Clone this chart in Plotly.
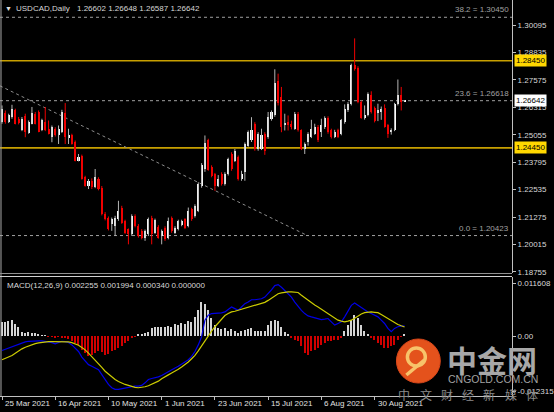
import plotly.graph_objects as go

# ---------------- data ----------------
date_labels = ["25 Mar 2021", "16 Apr 2021", "10 May 2021", "1 Jun 2021",
               "23 Jun 2021", "15 Jul 2021", "6 Aug 2021", "30 Aug 2021"]
date_idx = [0, 16, 32, 48, 64, 80, 96, 112]

price_ticks = [1.30095, 1.28835, 1.27575, 1.26315, 1.25055,
               1.23795, 1.22535, 1.21275, 1.20015, 1.18755]

open_ = [1.2563, 1.2605, 1.2563, 1.2587, 1.2617, 1.2579, 1.2525, 1.2590, 1.2513, 1.2556,
         1.2602, 1.2610, 1.2525, 1.2563, 1.2533, 1.2494, 1.2533, 1.2502, 1.2517, 1.2605,
         1.2491, 1.2502, 1.2471, 1.2387, 1.2410, 1.2310, 1.2271, 1.2295, 1.2264, 1.2302,
         1.2262, 1.2143, 1.2125, 1.2094, 1.2087, 1.2117, 1.2171, 1.2110, 1.2071, 1.2048,
         1.2133, 1.2087, 1.2064, 1.2033, 1.2048, 1.2125, 1.2056, 1.2082, 1.2041, 1.2079,
         1.2033, 1.2125, 1.2056, 1.2071, 1.2091, 1.2117, 1.2087, 1.2163, 1.2133, 1.2156,
         1.2270, 1.2348, 1.2480, 1.2356, 1.2325, 1.2271, 1.2325, 1.2279, 1.2325, 1.2417,
         1.2387, 1.2402, 1.2302, 1.2333, 1.2456, 1.2479, 1.2556, 1.2440, 1.2440, 1.2509,
         1.2494, 1.2579, 1.2594, 1.2750, 1.2679, 1.2548, 1.2563, 1.2556, 1.2533, 1.2602,
         1.2525, 1.2440, 1.2471, 1.2494, 1.2510, 1.2543, 1.2517, 1.2540, 1.2583, 1.2525,
         1.2497, 1.2528, 1.2510, 1.2563, 1.2617, 1.2648, 1.2825, 1.2814, 1.2656, 1.2583,
         1.2595, 1.2686, 1.2629, 1.2605, 1.2611, 1.2629, 1.2548, 1.2517, 1.2528, 1.2645,
         1.2686, 1.26602]
high = [1.2640, 1.2617, 1.2602, 1.2643, 1.2625, 1.2587, 1.2587, 1.2602, 1.2571, 1.2633,
        1.2610, 1.2617, 1.2579, 1.2633, 1.2571, 1.2548, 1.2540, 1.2548, 1.2620, 1.2651,
        1.2533, 1.2510, 1.2479, 1.2417, 1.2414, 1.2317, 1.2302, 1.2305, 1.2348, 1.2310,
        1.2270, 1.2150, 1.2130, 1.2125, 1.2133, 1.2202, 1.2179, 1.2115, 1.2075, 1.2140,
        1.2140, 1.2095, 1.2072, 1.2070, 1.2125, 1.2133, 1.2120, 1.2090, 1.2070, 1.2085,
        1.2125, 1.2130, 1.2085, 1.2115, 1.2115, 1.2122, 1.2171, 1.2170, 1.2186, 1.2287,
        1.2375, 1.2502, 1.2487, 1.2365, 1.2330, 1.2320, 1.2333, 1.2333, 1.2400, 1.2425,
        1.2440, 1.2410, 1.2340, 1.2470, 1.2525, 1.2586, 1.2563, 1.2517, 1.2533, 1.2517,
        1.2610, 1.2617, 1.2806, 1.2786, 1.2725, 1.2602, 1.2594, 1.2570, 1.2610, 1.2610,
        1.2530, 1.2470, 1.2517, 1.2574, 1.2556, 1.2550, 1.2579, 1.2590, 1.2590, 1.2533,
        1.2528, 1.2533, 1.2578, 1.2645, 1.2655, 1.2832, 1.2948, 1.2820, 1.2662, 1.2640,
        1.2700, 1.2705, 1.2635, 1.2648, 1.2635, 1.2645, 1.2555, 1.2535, 1.2652, 1.2759,
        1.2725, 1.26648]
low = [1.2556, 1.2556, 1.2559, 1.2579, 1.2553, 1.2553, 1.2522, 1.2494, 1.2510, 1.2553,
       1.2553, 1.2517, 1.2522, 1.2522, 1.2507, 1.2471, 1.2497, 1.2463, 1.2513, 1.2463,
       1.2463, 1.2460, 1.2383, 1.2383, 1.2299, 1.2267, 1.2256, 1.2256, 1.2260, 1.2250,
       1.2135, 1.2112, 1.2066, 1.2064, 1.2041, 1.2110, 1.2096, 1.2050, 1.2002, 1.2041,
       1.2080, 1.2033, 1.2025, 1.2018, 1.2040, 1.2002, 1.2050, 1.2028, 1.2002, 1.2018,
       1.2025, 1.2055, 1.2050, 1.2066, 1.2085, 1.2072, 1.2080, 1.2110, 1.2125, 1.2150,
       1.2262, 1.2335, 1.2340, 1.2310, 1.2248, 1.2265, 1.2272, 1.2272, 1.2318, 1.2340,
       1.2380, 1.2295, 1.2294, 1.2294, 1.2450, 1.2472, 1.2432, 1.2432, 1.2435, 1.2413,
       1.2487, 1.2570, 1.2588, 1.2640, 1.2517, 1.2525, 1.2525, 1.2530, 1.2528, 1.2520,
       1.2435, 1.2417, 1.2455, 1.2490, 1.2505, 1.2472, 1.2495, 1.2532, 1.2510, 1.2488,
       1.2490, 1.2490, 1.2503, 1.2556, 1.2610, 1.2640, 1.2800, 1.2650, 1.2579, 1.2575,
       1.2590, 1.2603, 1.2562, 1.2568, 1.2574, 1.2538, 1.2491, 1.2506, 1.2522, 1.2640,
       1.2617, 1.26587]
close = [1.2625, 1.2563, 1.2594, 1.2625, 1.2556, 1.2560, 1.2579, 1.2517, 1.2563, 1.2605,
         1.2556, 1.2520, 1.2571, 1.2525, 1.2510, 1.2540, 1.2502, 1.2533, 1.2610, 1.2494,
         1.2502, 1.2463, 1.2387, 1.2402, 1.2302, 1.2271, 1.2295, 1.2264, 1.2310, 1.2256,
         1.2140, 1.2117, 1.2071, 1.2117, 1.2125, 1.2156, 1.2102, 1.2056, 1.2048, 1.2133,
         1.2087, 1.2040, 1.2033, 1.2064, 1.2117, 1.2048, 1.2113, 1.2033, 1.2064, 1.2025,
         1.2110, 1.2061, 1.2079, 1.2110, 1.2107, 1.2079, 1.2156, 1.2117, 1.2179, 1.2279,
         1.2368, 1.2468, 1.2345, 1.2317, 1.2271, 1.2302, 1.2279, 1.2325, 1.2394, 1.2348,
         1.2433, 1.2302, 1.2325, 1.2463, 1.2517, 1.2525, 1.2440, 1.2509, 1.2502, 1.2433,
         1.2586, 1.2610, 1.2745, 1.2650, 1.2540, 1.2560, 1.2548, 1.2540, 1.2602, 1.2525,
         1.2440, 1.2463, 1.2510, 1.2533, 1.2540, 1.2479, 1.2548, 1.2583, 1.2517, 1.2494,
         1.2517, 1.2497, 1.2571, 1.2625, 1.2648, 1.2825, 1.2809, 1.2656, 1.2583, 1.2595,
         1.2691, 1.2610, 1.2568, 1.2617, 1.2623, 1.2543, 1.2510, 1.2528, 1.2645, 1.2686,
         1.2656, 1.26642]

macd_main = [-0.00321, -0.00292, -0.00277, -0.00248, -0.00219, -0.00175, -0.00146, -0.00131, -0.00117, -0.00109,
             -0.00109, -0.00109, -0.00109, -0.00117, -0.00124, -0.00146, -0.00175, -0.00146, -0.00117, -0.00124,
             -0.00146, -0.00197, -0.00270, -0.00343, -0.00467, -0.00562, -0.00635, -0.00672, -0.00708, -0.00745,
             -0.00854, -0.00978, -0.01073, -0.01146, -0.01183, -0.01183, -0.01168, -0.01161, -0.01146, -0.01124,
             -0.01110, -0.01110, -0.01095, -0.01037, -0.00964, -0.00942, -0.00927, -0.00905, -0.00876, -0.00832,
             -0.00781, -0.00745, -0.00708, -0.00672, -0.00620, -0.00577, -0.00525, -0.00453, -0.00343, -0.00197,
             -0.00015, 0.00351, 0.00460, 0.00497, 0.00497, 0.00497, 0.00511, 0.00533, 0.00584, 0.00643,
             0.00606, 0.00569, 0.00643, 0.00716, 0.00752, 0.00803, 0.00803, 0.00810, 0.00825, 0.00862,
             0.00935, 0.01022, 0.01117, 0.01139, 0.01081, 0.01008, 0.00935, 0.00862, 0.00752, 0.00657,
             0.00569, 0.00497, 0.00446, 0.00424, 0.00402, 0.00380, 0.00365, 0.00372, 0.00387, 0.00314,
             0.00241, 0.00278, 0.00314, 0.00424, 0.00569, 0.00679, 0.00730, 0.00679, 0.00628, 0.00584,
             0.00533, 0.00497, 0.00460, 0.00424, 0.00351, 0.00278, 0.00168, 0.00095, 0.00168, 0.00205,
             0.00219, 0.002255]
macd_signal = [-0.00525, -0.00496, -0.00467, -0.00431, -0.00380, -0.00329, -0.00285, -0.00248, -0.00219, -0.00190,
               -0.00168, -0.00153, -0.00139, -0.00131, -0.00124, -0.00124, -0.00124, -0.00124, -0.00124, -0.00124,
               -0.00131, -0.00146, -0.00168, -0.00204, -0.00255, -0.00307, -0.00380, -0.00453, -0.00525, -0.00613,
               -0.00693, -0.00781, -0.00847, -0.00905, -0.00964, -0.01007, -0.01044, -0.01073, -0.01095, -0.01124,
               -0.01139, -0.01146, -0.01139, -0.01124, -0.01102, -0.01073, -0.01044, -0.01000, -0.00949, -0.00898,
               -0.00861, -0.00818, -0.00781, -0.00737, -0.00686, -0.00635, -0.00577, -0.00504, -0.00431, -0.00329,
               -0.00219, -0.00088, 0.00015, 0.00109, 0.00205, 0.00292, 0.00372, 0.00453, 0.00497, 0.00533,
               0.00548, 0.00569, 0.00584, 0.00606, 0.00628, 0.00657, 0.00672, 0.00694, 0.00716, 0.00745,
               0.00789, 0.00840, 0.00884, 0.00935, 0.00956, 0.00971, 0.00978, 0.00978, 0.00971, 0.00964,
               0.00905, 0.00847, 0.00789, 0.00737, 0.00686, 0.00643, 0.00592, 0.00540, 0.00497, 0.00446,
               0.00402, 0.00351, 0.00329, 0.00314, 0.00329, 0.00351, 0.00394, 0.00446, 0.00489, 0.00518,
               0.00533, 0.00533, 0.00525, 0.00518, 0.00475, 0.00430, 0.00387, 0.00336, 0.00292, 0.00256,
               0.00226, 0.001994]
macd_hist = [0.00314, 0.00314, 0.00336, 0.00350, 0.00277, 0.00190, 0.00095, 0.00073, 0.00095, 0.00073,
             0.00058, 0.00044, 0.00022, 0.00010, -0.00010, -0.00020, -0.00030, -0.00020, -0.00050, -0.00030,
             -0.00060, -0.00110, -0.00160, -0.00200, -0.00310, -0.00380, -0.00440, -0.00420, -0.00380, -0.00340,
             -0.00360, -0.00420, -0.00390, -0.00340, -0.00310, -0.00270, -0.00220, -0.00160, -0.00120, -0.00050,
             -0.00020, 0.00030, 0.00040, 0.00060, 0.00090, 0.00170, 0.00190, 0.00200, 0.00190, 0.00200,
             0.00220, 0.00200, 0.00260, 0.00240, 0.00280, 0.00260, 0.00340, 0.00300, 0.00420, 0.00580,
             0.00750, 0.00720, 0.00570, 0.00390, 0.00240, 0.00170, 0.00150, 0.00170, 0.00100, 0.00150,
             0.00100, 0.00060, 0.00100, 0.00130, 0.00150, 0.00170, 0.00120, 0.00100, 0.00120, 0.00100,
             0.00240, 0.00330, 0.00350, 0.00330, 0.00200, 0.00090, 0.00040, -0.00050, -0.00090, -0.00120,
             -0.00230, -0.00380, -0.00420, -0.00340, -0.00310, -0.00270, -0.00200, -0.00160, -0.00120, -0.00100,
             -0.00090, -0.00090, -0.00050, 0.00100, 0.00240, 0.00350, 0.00460, 0.00390, 0.00240, 0.00100,
             0.00040, -0.00050, -0.00090, -0.00160, -0.00200, -0.00270, -0.00270, -0.00230, -0.00200, -0.00090,
             -0.00020, 0.00034]

fib_levels = [1.30450, 1.26618, 1.20423]
fib_names = ["38.2", "23.6", "0.0"]
hlines = [1.28450, 1.24450]
last_price = 1.26642
trend_x = [-0.6, 91.8]
trend_y = [1.2730, 1.20423]
macd_ticks = [0.011608, 0.0, -0.012315]
macd_ticktext = ["0.011608", "0.00", "-0.012315"]

n = len(close)
idx = list(range(n))

# ---------------- geometry helpers (layout only) ----------------
PR, PB = 514, 396          # plot area in px (left=0, top=0)
def px_x(px): return px / PR
def px_y(py): return 1 - py / PB

FONT = "Liberation Sans"
GREY = "#c0c0c0"

fig = go.Figure()

# wicks
for up, col in ((True, "#b4b4b4"), (False, "#f00000")):
    xs, ys = [], []
    for i in idx:
        if (close[i] >= open_[i]) == up:
            xs += [i, i, None]
            ys += [low[i], high[i], None]
    fig.add_trace(go.Scatter(x=xs, y=ys, mode="lines", line=dict(color=col, width=1),
                             hoverinfo="skip", xaxis="x", yaxis="y"))

# bodies
base = [min(o, c) for o, c in zip(open_, close)]
hgt = [max(abs(c - o), 0.00045) for o, c in zip(open_, close)]
bcol = ["#ffffff" if c >= o else "#f00000" for o, c in zip(open_, close)]
fig.add_trace(go.Bar(x=idx, y=hgt, base=base, width=0.62, marker=dict(color=bcol, line=dict(width=0)),
                     xaxis="x", yaxis="y", hoverinfo="skip"))

# MACD histogram and lines
hcol = ["#d4d4d4" if v >= 0 else "#d00000" for v in macd_hist]
fig.add_trace(go.Bar(x=idx, y=macd_hist, width=0.42, marker=dict(color=hcol, line=dict(width=0)),
                     xaxis="x", yaxis="y2", hoverinfo="skip"))
fig.add_trace(go.Scatter(x=idx, y=macd_main, mode="lines", line=dict(color="#0000e6", width=1.2),
                         xaxis="x", yaxis="y2", hoverinfo="skip"))
fig.add_trace(go.Scatter(x=idx, y=macd_signal, mode="lines", line=dict(color="#cccc00", width=1.2),
                         xaxis="x", yaxis="y2", hoverinfo="skip"))

shapes = []
for lv in fib_levels:
    shapes.append(dict(type="line", xref="paper", yref="y", x0=0, x1=1, y0=lv, y1=lv,
                       line=dict(color="#a0a0a0", width=1, dash="3px,3px"), layer="below"))
shapes.append(dict(type="line", xref="x", yref="y", x0=trend_x[0], x1=trend_x[1], y0=trend_y[0], y1=trend_y[1],
                   line=dict(color="#8c8c8c", width=1, dash="3px,3px"), layer="below"))
for lv in hlines:
    shapes.append(dict(type="line", xref="paper", yref="y", x0=0, x1=1, y0=lv, y1=lv,
                       line=dict(color="#c8a000", width=1.6), layer="below"))
# frame lines
shapes.append(dict(type="line", xref="paper", yref="paper", x0=px_x(1), x1=px_x(1), y0=px_y(396), y1=px_y(0),
                   line=dict(color="#a8a8a8", width=1)))
shapes.append(dict(type="line", xref="paper", yref="paper", x0=0, x1=1, y0=px_y(273.5), y1=px_y(273.5),
                   line=dict(color="#909090", width=1)))
shapes.append(dict(type="line", xref="paper", yref="paper", x0=0, x1=1, y0=px_y(276.5), y1=px_y(276.5),
                   line=dict(color="#d0d0d0", width=1)))

# watermark logo
shapes.append(dict(type="circle", xref="paper", yref="paper", x0=px_x(398), x1=px_x(442), y0=px_y(383), y1=px_y(339),
                   fillcolor="#e4521c", line=dict(color="#d9471a", width=1)))
shapes.append(dict(type="circle", xref="paper", yref="paper", x0=px_x(409), x1=px_x(427), y0=px_y(366), y1=px_y(348),
                   line=dict(color="#f7c36a", width=3.5)))
shapes.append(dict(type="line", xref="paper", yref="paper", x0=px_x(426), x1=px_x(408), y0=px_y(360), y1=px_y(375),
                   line=dict(color="#f7c36a", width=3.5)))

ann = []
def A(text, x, y, xanchor="left", yanchor="middle", size=8, color="#d8d8d8", xref="paper", yref="paper",
      family=FONT, **kw):
    ann.append(dict(text=text, x=x, y=y, xref=xref, yref=yref, xanchor=xanchor, yanchor=yanchor,
                    showarrow=False, font=dict(family=family, size=size, color=color), **kw))

# header
A("▼", px_x(3), px_y(8), size=7, color="#e0e0e0")
A("USDCAD,Daily", px_x(14), px_y(8), color="#d8d8d8")
A(" ".join(f"{v:.5f}" for v in (open_[-1], high[-1], low[-1], close[-1])), px_x(75), px_y(8), color="#d8d8d8")
for lv, nm in zip(fib_levels, fib_names):
    A(f"{nm} = {lv:.5f}", px_x(513), lv, xanchor="right", yanchor="bottom", yref="y", color="#a0a0a0", yshift=1)
for lv in hlines:
    A(f"{lv:.5f}", 1, lv, yref="y", color="#000000", bgcolor="#ffd700", borderpad=1, xshift=2)
A(f"{last_price:.5f}", 1, last_price, yref="y", color="#000000", bgcolor="#ffffff", borderpad=1, xshift=2)
A("MACD(12,26,9) " + " ".join(f"{v:.6f}" for v in (macd_main[-1], macd_signal[-1], 0.000340, 0.0)),
  px_x(5), px_y(285), color="#d8d8d8")
for i, t in zip(date_idx, date_labels):
    A(t, i, px_y(404), xref="x", color="#e0e0e0", xshift=1)

# watermark text
A("<b>中金网</b>", px_x(447), px_y(359), size=30, color="#a8a8a8", family="Noto Sans CJK SC")
A("CNGOLD.COM.CN", px_x(448), px_y(379), size=10.5, color="#a0a0a0")
for k, ch in enumerate("中文财经新媒体"):
    A(ch, px_x(406 + 21.3 * k), px_y(394), xanchor="center", size=12, color="#8c8c8c", family="Noto Sans CJK SC")

p_top = 1.30095 + 25 / 2177
p_bot = 1.30095 - 248 / 2177
m_top = 59 / 4514
m_bot = -60 / 4514

fig.update_layout(
    width=554, height=412, margin=dict(l=0, r=40, t=0, b=16, pad=0),
    paper_bgcolor="#000000", plot_bgcolor="#000000", showlegend=False,
    barmode="overlay", bargap=0,
    xaxis=dict(range=[-0.6, 153.3], anchor="y2", showgrid=False, zeroline=False, showline=True,
               linecolor=GREY, linewidth=1, ticks="outside", ticklen=3, tickcolor=GREY,
               tickvals=date_idx, showticklabels=False, fixedrange=True),
    yaxis=dict(domain=[1 - 273 / 396, 1], range=[p_bot, p_top], side="right", anchor="x",
               showgrid=False, zeroline=False, showline=True, linecolor=GREY, linewidth=1,
               ticks="outside", ticklen=3, tickcolor=GREY, tickvals=price_ticks,
               ticktext=[f"{v:.5f}" for v in price_ticks],
               tickfont=dict(family=FONT, size=8, color="#d8d8d8"), fixedrange=True),
    yaxis2=dict(domain=[0, 119 / 396], range=[m_bot, m_top], side="right", anchor="x",
                showgrid=False, zeroline=False, showline=True, linecolor=GREY, linewidth=1,
                ticks="outside", ticklen=3, tickcolor=GREY, tickvals=macd_ticks, ticktext=macd_ticktext,
                tickfont=dict(family=FONT, size=8, color="#d8d8d8"), fixedrange=True),
    shapes=shapes, annotations=ann,
)

fig.write_html("out.html", config={"displayModeBar": False},
               post_script="document.body.style.margin='0';document.body.style.background='#000';")
